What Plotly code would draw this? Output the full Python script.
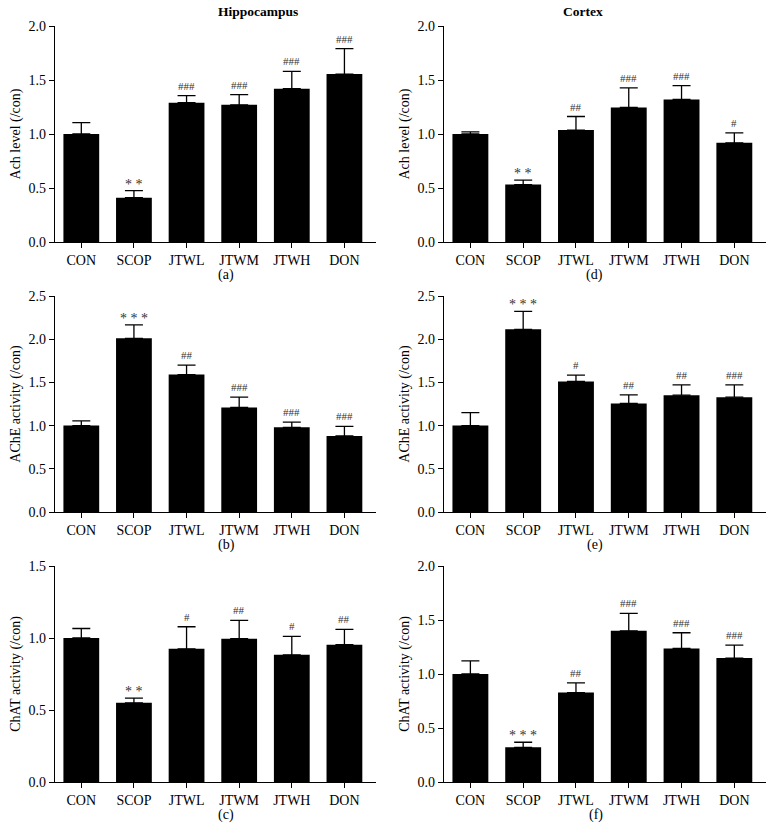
import plotly.graph_objects as go

groups = ["CON", "SCOP", "JTWL", "JTWM", "JTWH", "DON"]

# Hippocampus
hip_ach = [1.00, 0.41, 1.29, 1.27, 1.42, 1.555]
hip_ach_err = [0.105, 0.065, 0.065, 0.095, 0.16, 0.235]
hip_ach_sig = ["", "**", "###", "###", "###", "###"]

hip_ache = [1.00, 2.01, 1.59, 1.21, 0.98, 0.88]
hip_ache_err = [0.055, 0.155, 0.11, 0.12, 0.06, 0.11]
hip_ache_sig = ["", "***", "##", "###", "###", "###"]

hip_chat = [1.00, 0.55, 0.925, 0.995, 0.883, 0.953]
hip_chat_err = [0.066, 0.033, 0.153, 0.127, 0.128, 0.107]
hip_chat_sig = ["", "**", "#", "##", "#", "##"]

# Cortex
cor_ach = [1.00, 0.532, 1.036, 1.246, 1.32, 0.918]
cor_ach_err = [0.02, 0.04, 0.126, 0.182, 0.127, 0.093]
cor_ach_sig = ["", "**", "##", "###", "###", "#"]

cor_ache = [1.00, 2.114, 1.511, 1.256, 1.352, 1.329]
cor_ache_err = [0.151, 0.208, 0.073, 0.10, 0.12, 0.143]
cor_ache_sig = ["", "***", "#", "##", "##", "###"]

cor_chat = [1.00, 0.321, 0.828, 1.40, 1.236, 1.147]
cor_chat_err = [0.122, 0.047, 0.09, 0.161, 0.146, 0.12]
cor_chat_sig = ["", "***", "##", "###", "###", "###"]

panels = [
    (hip_ach, hip_ach_err, hip_ach_sig, "Ach level (/con)", 2.0, 0, 0, "(a)"),
    (hip_ache, hip_ache_err, hip_ache_sig, "AChE activity (/con)", 2.5, 0, 1, "(b)"),
    (hip_chat, hip_chat_err, hip_chat_sig, "ChAT activity (/con)", 1.5, 0, 2, "(c)"),
    (cor_ach, cor_ach_err, cor_ach_sig, "Ach level (/con)", 2.0, 1, 0, "(d)"),
    (cor_ache, cor_ache_err, cor_ache_sig, "AChE activity (/con)", 2.5, 1, 1, "(e)"),
    (cor_chat, cor_chat_err, cor_chat_sig, "ChAT activity (/con)", 2.0, 1, 2, "(f)"),
]

W, H = 779, 833
col_px = [(55, 376), (444, 766)]
row_px = [(26, 242), (296, 512), (566, 782)]
FONT = "Liberation Serif"

fig = go.Figure()
annotations = []
layout_axes = {}

for i, (vals, errs, sigs, ytitle, ymax, c, r, lab) in enumerate(panels):
    n = i + 1
    xa = "x" if n == 1 else f"x{n}"
    ya = "y" if n == 1 else f"y{n}"
    fig.add_trace(go.Bar(
        x=groups, y=vals, xaxis=xa, yaxis=ya,
        marker=dict(color="black", line=dict(width=0)),
        error_y=dict(type="data", array=errs, arrayminus=[0] * len(errs),
                     symmetric=False, color="black", thickness=1.3, width=9),
        showlegend=False, hoverinfo="skip",
    ))
    x0, x1 = col_px[c]
    y0, y1 = row_px[r]
    xkey = "xaxis" if n == 1 else f"xaxis{n}"
    ykey = "yaxis" if n == 1 else f"yaxis{n}"
    layout_axes[xkey] = dict(
        domain=[x0 / W, x1 / W], anchor=ya, range=[-0.5, 5.6],
        showline=True, linecolor="black", linewidth=1.2,
        ticks="outside", ticklen=5, tickwidth=1.2, tickcolor="black",
        showgrid=False, zeroline=False, automargin=False,
        tickfont=dict(family=FONT, size=14, color="black"),
    )
    layout_axes[ykey] = dict(
        domain=[1 - y1 / H, 1 - y0 / H], anchor=xa, range=[0, ymax],
        dtick=0.5, tickformat=".1f",
        showline=True, linecolor="black", linewidth=1.2,
        ticks="outside", ticklen=5, tickwidth=1.2, tickcolor="black",
        showgrid=False, zeroline=False, automargin=False,
        tickfont=dict(family=FONT, size=14, color="black"),
        title=dict(text=ytitle, font=dict(family=FONT, size=14, color="black"), standoff=4),
    )
    for g, v, e, s in zip(groups, vals, errs, sigs):
        if s:
            star = s.startswith("*")
            annotations.append(dict(
                x=g, y=v + e, xref=xa, yref=ya,
                text=" ".join(s) if star else s, showarrow=False,
                yanchor="bottom", yshift=-3 if star else 2,
                font=dict(family=FONT, size=14 if star else 11, color="#333333"),
            ))
    annotations.append(dict(
        x=(x0 + x1) / 2 / W, y=1 - (y1 + 33) / H, xref="paper", yref="paper",
        text=lab, showarrow=False, yanchor="middle",
        font=dict(family=FONT, size=14, color="black"),
    ))

for c, t in enumerate(["Hippocampus", "Cortex"]):
    x0, x1 = col_px[c]
    annotations.append(dict(
        x=(x0 + x1) / 2 / W, y=1 - 12 / H, xref="paper", yref="paper",
        text=f"<b>{t}</b>", showarrow=False, yanchor="middle",
        font=dict(family=FONT, size=13.5, color="black"),
    ))

fig.update_layout(
    width=W, height=H, margin=dict(l=0, r=0, t=0, b=0),
    paper_bgcolor="white", plot_bgcolor="white",
    bargap=0.32, annotations=annotations, **layout_axes,
)

fig.write_html(
    "out.html",
    config={"displayModeBar": False},
    post_script="document.body.style.margin='0';document.body.style.padding='0';",
)
